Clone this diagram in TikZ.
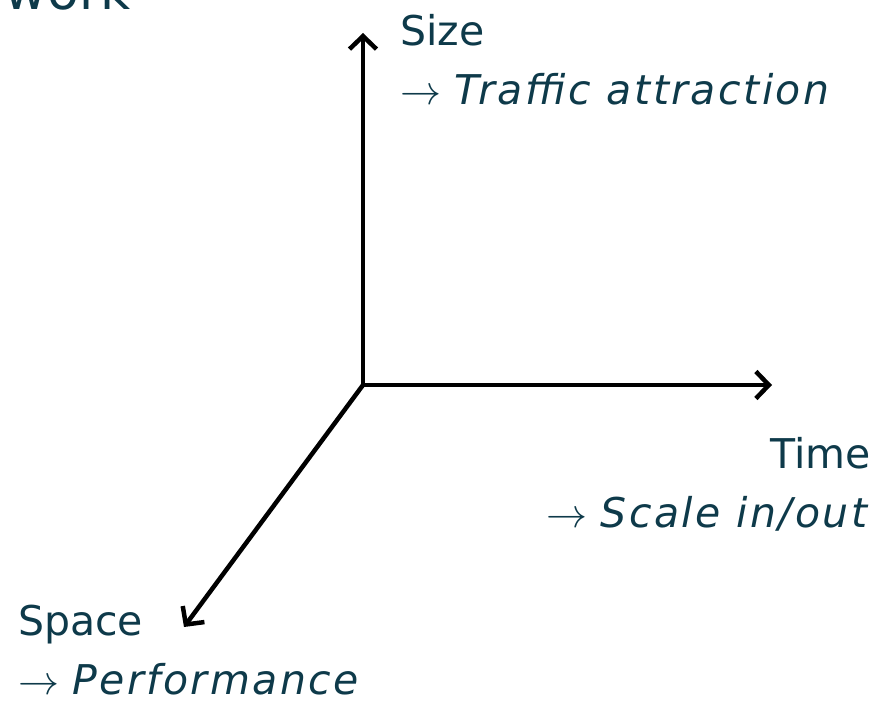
\documentclass[tikz,border=0pt]{standalone}
\usepackage{anyfontsize}
\usepackage{fontspec}
\setmainfont{DejaVu Sans}[ItalicFeatures={LetterSpace=6}]
\usetikzlibrary{arrows.meta, positioning}

\definecolor{labelteal}{RGB}{14,58,74}

\tikzset{
    axis/.style={line width=4.5pt, -{Straight Barb[length=13pt, width=27pt, line width=4.5pt]}},
    axislabel/.style={text=labelteal, align=left, inner sep=0pt,
        font=\fontsize{41}{59}\selectfont},
}

\begin{document}
\begin{tikzpicture}[x=1pt, y=-1pt]
    \useasboundingbox (0,0) rectangle (886,706);

    \node[text=labelteal, inner sep=0pt, anchor=base east,
          font=\fontsize{52}{60}\selectfont] (Title) at (131,10) {work};

    \coordinate (Origin) at (363,385);
    \coordinate (Size end)  at (363,33);
    \coordinate (Time end)  at (772,385);
    \coordinate (Space end) at (184,627);

    \draw[axis] (Origin) -- (Size end);
    \draw[axis] (Origin) -- (Time end);
    \draw[axis] (Origin) -- (Space end);

    \node[axislabel, anchor=north west] (Size)  at (400,14)
        {Size\\$\rightarrow$ \textit{Traffic attraction}};
    \node[axislabel, anchor=north east, align=right] (Time)  at (871,437)
        {Time\\$\rightarrow$ \textit{Scale in/out}};
    \node[axislabel, anchor=north west] (Space) at (18,605)
        {Space\\$\rightarrow$ \textit{Performance}};
\end{tikzpicture}
\end{document}
